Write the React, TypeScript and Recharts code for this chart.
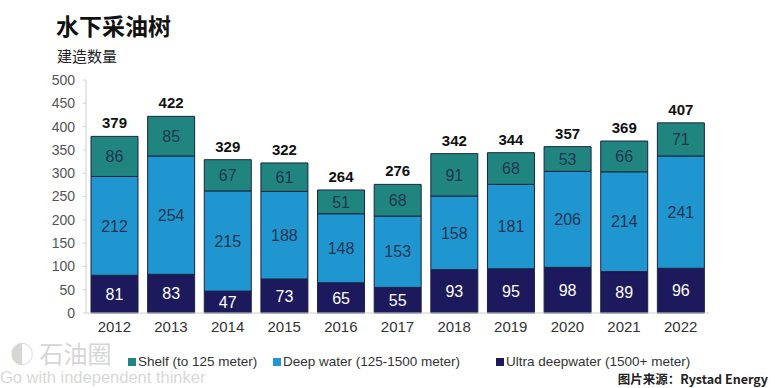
import React from "react";
import { BarChart, Bar, XAxis, YAxis, LabelList } from "recharts";

// values
const years = ["2012", "2013", "2014", "2015", "2016", "2017", "2018", "2019", "2020", "2021", "2022"];
const ultraDeep = [81, 83, 47, 73, 65, 55, 93, 95, 98, 89, 96];
const deepWater = [212, 254, 215, 188, 148, 153, 158, 181, 206, 214, 241];
const shelf = [86, 85, 67, 61, 51, 68, 91, 68, 53, 66, 71];
const totals = [379, 422, 329, 322, 264, 276, 342, 344, 357, 369, 407];
const yTicks = [0, 50, 100, 150, 200, 250, 300, 350, 400, 450, 500];

const COLORS = { shelf: "#21857f", deep: "#1f96cf", ultra: "#1c1a5c" };
const FONT = "'Liberation Sans', Arial, sans-serif";
const CJK = "'Noto Sans CJK SC', sans-serif";

const data = years.map((y, i) => ({
  year: y,
  ultra: ultraDeep[i],
  deep: deepWater[i],
  shelf: shelf[i],
  total: totals[i],
}));

const legendItems = [
  { label: "Shelf (to 125 meter)", color: COLORS.shelf, left: 128 },
  { label: "Deep water (125-1500 meter)", color: COLORS.deep, left: 273 },
  { label: "Ultra deepwater (1500+ meter)", color: COLORS.ultra, left: 496 },
];

export default function App() {
  return (
    <div style={{ position: "relative", width: 775, height: 388, background: "#fff", fontFamily: FONT, overflow: "hidden" }}>
      <style>{`body{margin:0}`}</style>
      <div style={{ position: "absolute", left: 56, top: 8, fontSize: 23, fontWeight: "bold", color: "#111", fontFamily: CJK }}>
        水下采油树
      </div>
      <div style={{ position: "absolute", left: 57, top: 45, fontSize: 15, color: "#222", fontFamily: CJK }}>
        建造数量
      </div>

      <div style={{ position: "absolute", left: 0, top: 0 }}>
        <BarChart
          width={775}
          height={388}
          data={data}
          margin={{ top: 80, right: 66, left: 0, bottom: 45 }}
          barSize={47}
        >
          <YAxis
            domain={[0, 500]}
            ticks={yTicks}
            interval={0}
            width={86}
            axisLine={{ stroke: "#d0d0d0" }}
            tickLine={{ stroke: "#d0d0d0" }}
            tickSize={3}
            tickMargin={8}
            tick={{ fill: "#555", fontSize: 14, fontFamily: FONT }}
          />
          <XAxis
            dataKey="year"
            height={30}
            axisLine={{ stroke: "#d0d0d0" }}
            tickLine={false}
            tick={{ fill: "#333", fontSize: 15, fontFamily: FONT }}
          />
          <Bar dataKey="ultra" stackId="a" fill={COLORS.ultra} stroke="#1a2440" strokeWidth={1} isAnimationActive={false}>
            <LabelList dataKey="ultra" position="center" fill="#ffffff" fontSize={16} fontFamily={FONT} />
          </Bar>
          <Bar dataKey="deep" stackId="a" fill={COLORS.deep} stroke="#1a2440" strokeWidth={1} isAnimationActive={false}>
            <LabelList dataKey="deep" position="center" fill="#1f3550" fontSize={16} fontFamily={FONT} />
          </Bar>
          <Bar dataKey="shelf" stackId="a" fill={COLORS.shelf} stroke="#1a2440" strokeWidth={1} isAnimationActive={false}>
            <LabelList dataKey="shelf" position="center" fill="#1f3550" fontSize={16} fontFamily={FONT} />
            <LabelList dataKey="total" position="top" offset={8} fill="#111" fontSize={15} fontWeight="bold" fontFamily={FONT} />
          </Bar>
        </BarChart>
      </div>

      {legendItems.map((it) => (
        <div
          key={it.label}
          style={{
            position: "absolute",
            left: it.left,
            top: 354,
            display: "flex",
            alignItems: "center",
            whiteSpace: "nowrap",
            fontSize: 13.5,
            color: "#333",
          }}
        >
          <span style={{ width: 8, height: 8, flexShrink: 0, background: it.color, marginRight: 2 }} />
          {it.label}
        </div>
      ))}

      <div style={{ position: "absolute", left: 10, top: 341, fontSize: 24, color: "#d6d6d6", fontFamily: CJK, lineHeight: 1, whiteSpace: "nowrap" }}>
        ◐ 石油圈
      </div>
      <div style={{ position: "absolute", left: 0, top: 368, fontSize: 16.5, lineHeight: 1.1, color: "#d8d8d8", whiteSpace: "nowrap" }}>
        Go with independent thinker
      </div>

      <div style={{ position: "absolute", right: 7, top: 371, fontSize: 12.5, lineHeight: 1.2, fontWeight: "bold", color: "#222", fontFamily: CJK, whiteSpace: "nowrap" }}>
        图片来源：Rystad Energy
      </div>
    </div>
  );
}
